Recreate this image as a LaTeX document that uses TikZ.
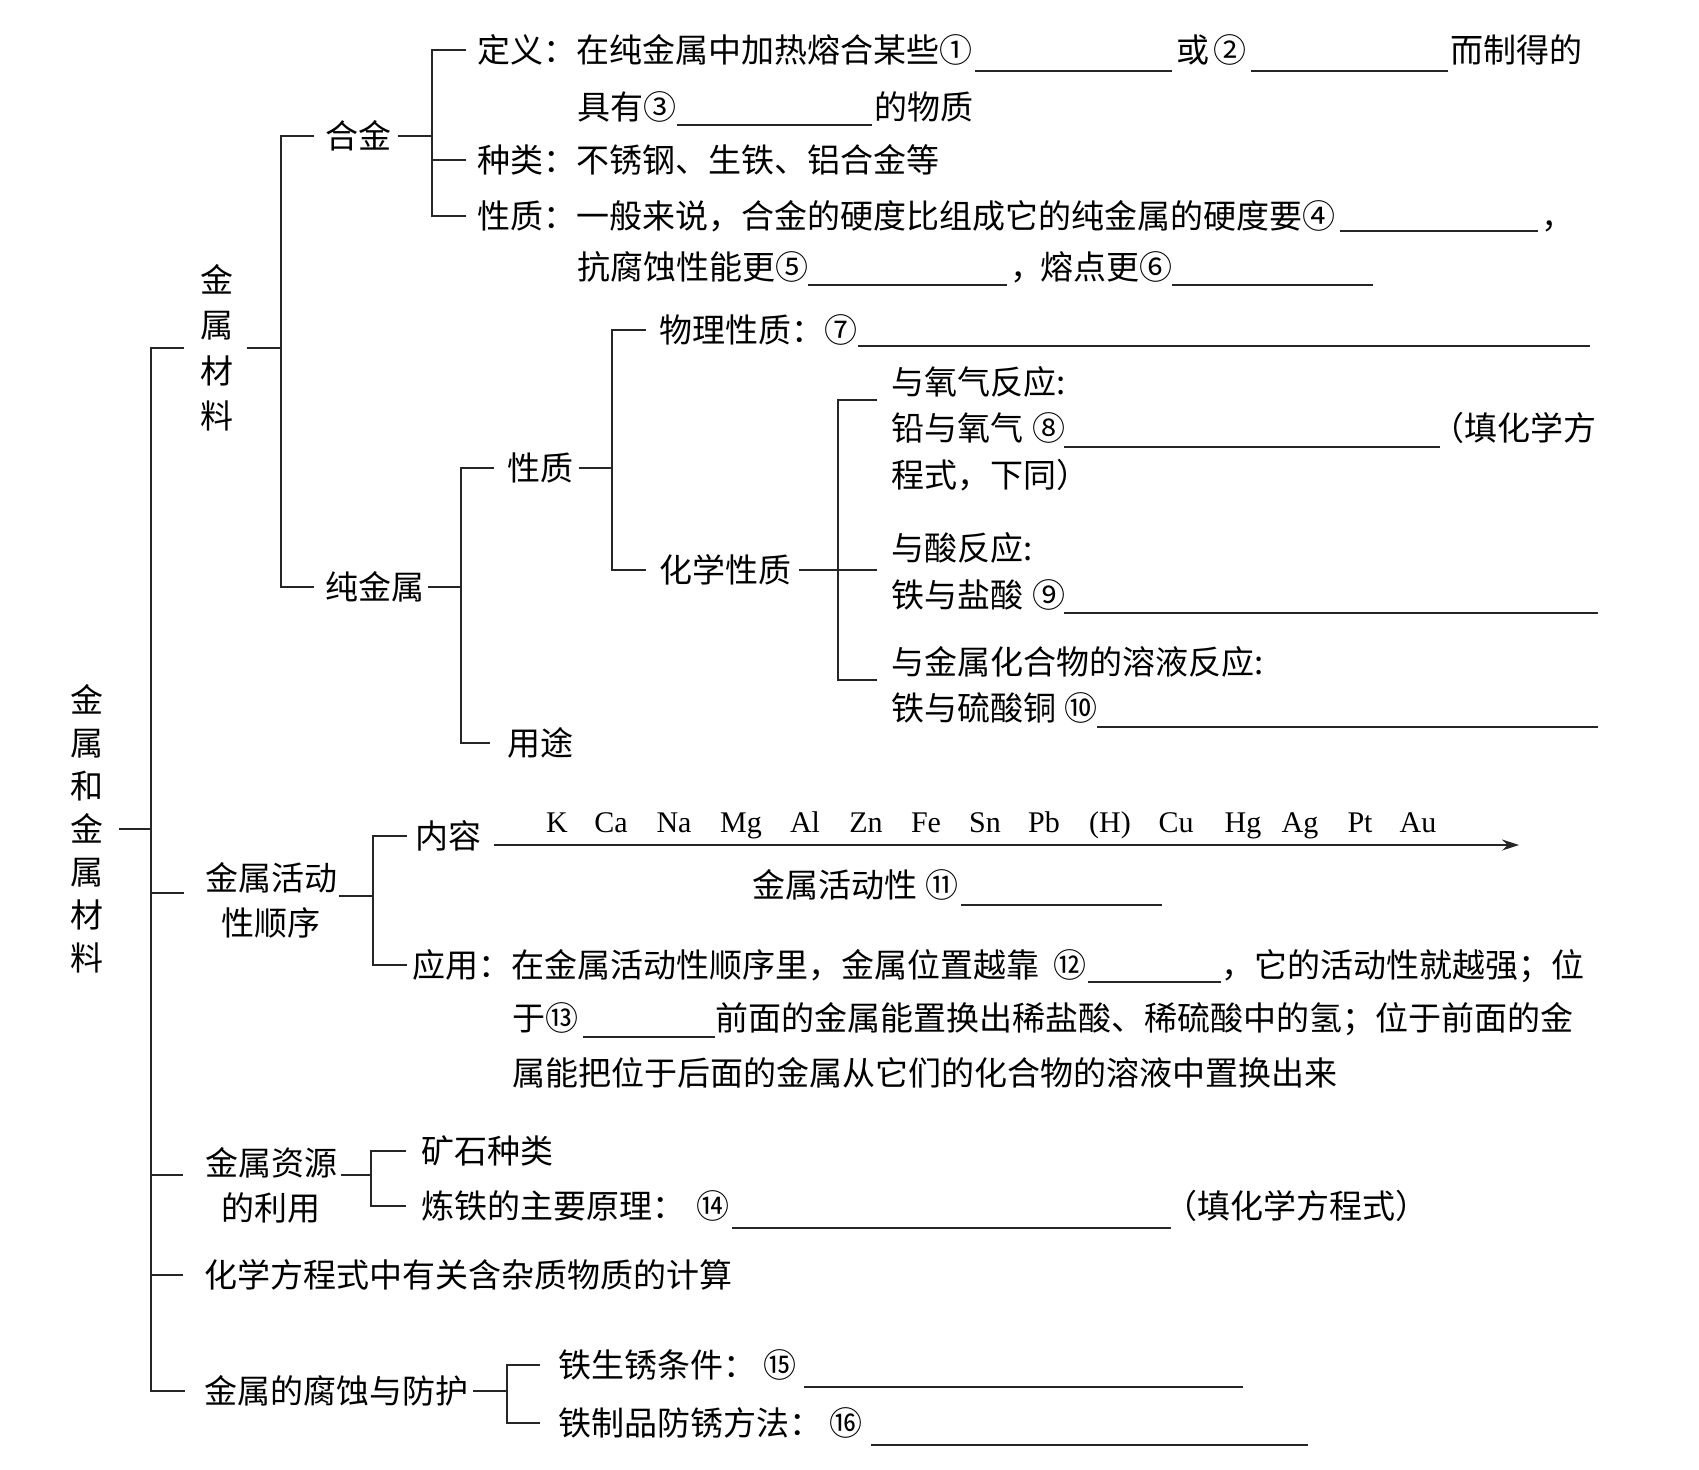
\documentclass[tikz,border=0pt]{standalone}
\usepackage{fontspec}
\setmainfont{Noto Sans CJK SC}
\newfontfamily\latf{Liberation Serif}
\usetikzlibrary{arrows.meta}
\begin{document}
\begin{tikzpicture}[x=1pt,y=-1pt,
  txt/.style={anchor=west,inner sep=0pt,text height=27pt,text depth=2.5pt,font=\fontsize{33}{40}\selectfont},
  vtxt/.style={inner sep=0pt,align=center},
  el/.style={anchor=base,inner sep=0pt,font=\latf\fontsize{30}{30}\selectfont},
  ln/.style={line width=1.3pt,draw=black!85},
  blank/.style={line width=1.3pt,draw=black!85},
]
\fill[white] (0,0) rectangle (1699,1469);
\useasboundingbox (0,0) rectangle (1699,1469);

% spine x positions
\coordinate (T) at (151,0);
\coordinate (S1) at (281,0);
\coordinate (S11) at (432,0);
\coordinate (S12) at (461,0);
\coordinate (S121) at (612,0);
\coordinate (S122) at (838,0);
\coordinate (S2) at (373,0);
\coordinate (S3) at (371,0);
\coordinate (S5) at (507,0);

% ---------- level 0 / 1 ----------
\node[vtxt,font=\fontsize{33}{43}\selectfont] (root) at (87,829) {金\\属\\和\\金\\属\\材\\料};
\node[vtxt,font=\fontsize{33}{45.5}\selectfont] (jscl) at (217,348) {金\\属\\材\\料};
\node[vtxt,font=\fontsize{33}{45}\selectfont] (jshd) at (271,900) {金属活动\\性顺序};
\node[vtxt,font=\fontsize{33}{45}\selectfont] (zy) at (271,1185) {金属资源\\的利用};
\node[txt] (hxfc) at (204,1275) {化学方程式中有关含杂质物质的计算};
\node[txt] (fs) at (204,1391) {金属的腐蚀与防护};

% ---------- 金属材料 ----------
\node[txt] (hj) at (325,136) {合金};
\node[txt] (cjs) at (325,587) {纯金属};

\node[txt] (dy) at (477,50) {定义：在纯金属中加热熔合某些①};
\node[txt] (huo) at (1176,50) {或};
\node[txt] (n2) at (1213,50) {②};
\node[txt] (ezd) at (1450,50) {而制得的};
\node[txt] (jy) at (577,107) {具有③};
\node[txt] (dwz) at (874,107) {的物质};
\node[txt] (zl) at (477,160) {种类：不锈钢、生铁、铝合金等};
\node[txt] (xz) at (477,216) {性质：一般来说，合金的硬度比组成它的纯金属的硬度要④};
\node[txt] (c1) at (1541,216) {，};
\node[txt] (kfs) at (577,267) {抗腐蚀性能更⑤};
\node[txt] (c2) at (1010,267) {，};
\node[txt] (rdg) at (1040,267) {熔点更⑥};

\draw[blank] (975,71) -- (1172,71);
\draw[blank] (1251,71) -- (1448,71);
\draw[blank] (677,125) -- (872,125);
\draw[blank] (1340,231) -- (1538,231);
\draw[blank] (808,285) -- (1007,285);
\draw[blank] (1172,285) -- (1373,285);

\node[txt] (xz2) at (507,468) {性质};
\node[txt] (yt) at (507,743) {用途};
\node[txt] (wl) at (659,330) {物理性质：⑦};
\node[txt] (hx) at (659,570) {化学性质};
\node[txt] (o1) at (891,382) {与氧气反应:};
\node[txt] (o2) at (891,428) {铅与氧气};
\node[txt] (n8) at (1032,428) {⑧};
\node[txt] (tx1) at (1431,428) {（填化学方};
\node[txt] (o3) at (891,475) {程式，下同）};
\node[txt] (a1) at (891,548) {与酸反应:};
\node[txt] (a2) at (891,595) {铁与盐酸};
\node[txt] (n9) at (1032,595) {⑨};
\node[txt] (m1) at (891,662) {与金属化合物的溶液反应:};
\node[txt] (m2) at (891,708) {铁与硫酸铜};
\node[txt] (n10) at (1064,708) {⑩};

\draw[blank] (858,346) -- (1590,346);
\draw[blank] (1064,447) -- (1440,447);
\draw[blank] (1064,613) -- (1598,613);
\draw[blank] (1097,727) -- (1598,727);

% ---------- 金属活动性顺序 ----------
\node[txt] (nr) at (415,836) {内容};
\node[el] (eK) at (557,832) {K};
\node[el] (eCa) at (611,832) {Ca};
\node[el] (eNa) at (674,832) {Na};
\node[el] (eMg) at (741,832) {Mg};
\node[el] (eAl) at (805,832) {Al};
\node[el] (eZn) at (866,832) {Zn};
\node[el] (eFe) at (926,832) {Fe};
\node[el] (eSn) at (985,832) {Sn};
\node[el] (ePb) at (1044,832) {Pb};
\node[el] (eH) at (1110,832) {(H)};
\node[el] (eCu) at (1176,832) {Cu};
\node[el] (eHg) at (1243,832) {Hg};
\node[el] (eAg) at (1300,832) {Ag};
\node[el] (ePt) at (1360,832) {Pt};
\node[el] (eAu) at (1418,832) {Au};
\coordinate (arrE) at (1519,845);
\draw[ln,-{Stealth[length=17pt,width=11pt]}] ([xshift=13pt,yshift=-9pt]nr.east) -- (arrE);

\node[txt] (hdx) at (752,885) {金属活动性};
\node[txt] (n11) at (925,885) {⑪};
\draw[blank] (961,905) -- (1162,905);

\node[txt] (yy) at (412,965) {应用：在金属活动性顺序里，金属位置越靠};
\node[txt] (n12) at (1053,965) {⑫};
\node[txt] (yy2) at (1221,965) {，它的活动性就越强；位};
\node[txt] (yy3) at (512,1018) {于⑬};
\node[txt] (yy4) at (715,1018) {前面的金属能置换出稀盐酸、稀硫酸中的氢；位于前面的金};
\node[txt] (yy5) at (512,1073) {属能把位于后面的金属从它们的化合物的溶液中置换出来};
\draw[blank] (1088,982) -- (1221,982);
\draw[blank] (583,1037) -- (715,1037);

% ---------- 金属资源的利用 ----------
\node[txt] (ks) at (421,1151) {矿石种类};
\node[txt] (lt) at (421,1206) {炼铁的主要原理：};
\node[txt] (n14) at (696,1206) {⑭};
\node[txt] (tx2) at (1164,1206) {（填化学方程式）};
\draw[blank] (732,1228) -- (1171,1228);

% ---------- 金属的腐蚀与防护 ----------
\node[txt] (tsx) at (558,1365) {铁生锈条件：};
\node[txt] (n15) at (763,1365) {⑮};
\node[txt] (tzp) at (558,1423) {铁制品防锈方法：};
\node[txt] (n16) at (829,1423) {⑯};
\draw[blank] (804,1387) -- (1243,1387);
\draw[blank] (871,1445) -- (1308,1445);

% ---------- connectors ----------
\draw[ln] ([xshift=15pt]root.east) -- (root.east -| T);
\draw[ln] ([xshift=-16pt]jscl.west) -| (T |- fs.west) -- ([xshift=-19pt]fs.west);
\draw[ln] ([xshift=-21pt,yshift=7pt]jshd.west) -- ([yshift=7pt]jshd.west -| T);
\draw[ln] ([xshift=-22pt,yshift=10pt]zy.west) -- ([yshift=10pt]zy.west -| T);
\draw[ln] ([xshift=-21pt]hxfc.west) -- (hxfc.west -| T);

\draw[ln] ([xshift=13pt]jscl.east) -- (jscl.east -| S1);
\draw[ln] ([xshift=-11pt]hj.west) -| (S1 |- cjs.west) -- ([xshift=-11pt]cjs.west);

\draw[ln] ([xshift=7pt]hj.east) -- (hj.east -| S11);
\draw[ln] ([xshift=-11pt]dy.west) -| (S11 |- xz.west) -- ([xshift=-11pt]xz.west);
\draw[ln] ([xshift=-11pt]zl.west) -- (zl.west -| S11);

\draw[ln] ([xshift=4pt]cjs.east) -- (cjs.east -| S12);
\draw[ln] ([xshift=-13pt]xz2.west) -| (S12 |- yt.west) -- ([xshift=-17pt]yt.west);

\draw[ln] ([xshift=6pt]xz2.east) -- (xz2.east -| S121);
\draw[ln] ([xshift=-13pt]wl.west) -| (S121 |- hx.west) -- ([xshift=-13pt]hx.west);

\draw[ln] ([xshift=8pt]hx.east) -- ([xshift=-14pt]hx.east -| a1.west);
\draw[ln] ([xshift=-14pt,yshift=-18pt]o1.west) -| ([yshift=-18pt]m1.west -| S122) -- ([xshift=-14pt,yshift=-18pt]m1.west);

\draw[ln] ([xshift=2pt,yshift=4pt]jshd.east) -- ([yshift=4pt]jshd.east -| S2);
\draw[ln] ([xshift=-8pt]nr.west) -| (S2 |- yy.west) -- ([xshift=-5pt]yy.west);

\draw[ln] ([xshift=4pt,yshift=10pt]zy.east) -- ([yshift=10pt]zy.east -| S3);
\draw[ln] ([xshift=-15pt]ks.west) -| (S3 |- lt.west) -- ([xshift=-15pt]lt.west);

\draw[ln] ([xshift=5pt]fs.east) -- (fs.east -| S5);
\draw[ln] ([xshift=-18pt]tsx.west) -| (S5 |- tzp.west) -- ([xshift=-18pt]tzp.west);
\end{tikzpicture}
\end{document}
